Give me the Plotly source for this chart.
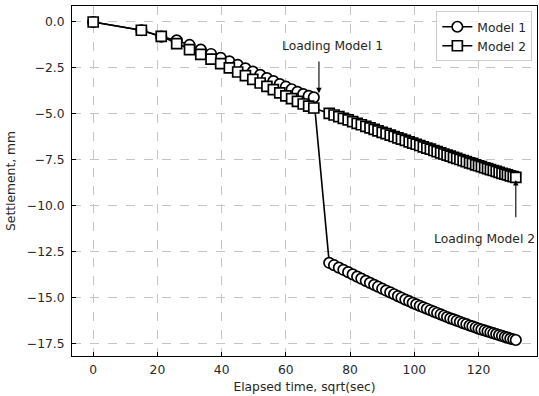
import plotly.graph_objects as go

# Elapsed time on a square-root scale, sqrt(sec)
elapsed_sqrt = [
    0.0, 15.0, 21.2, 26.0, 30.0, 33.5, 36.7, 39.7, 42.4, 45.0, 47.4,
    49.7, 52.0, 54.1, 56.1, 58.1, 60.0, 61.8, 63.6, 65.4, 67.1, 68.7,
    73.5, 75.0, 76.5, 77.9, 79.4, 80.8, 82.2, 83.5, 84.9, 86.2, 87.5,
    88.7, 90.0, 91.2, 92.5, 93.7, 94.9, 96.0, 97.2, 98.4, 99.5, 100.6,
    101.7, 102.8, 103.9, 105.0, 106.1, 107.1, 108.2, 109.2, 110.2, 111.2,
    112.2, 113.2, 114.2, 115.2, 116.2, 117.2, 118.1, 119.1, 120.0, 120.9,
    121.9, 122.8, 123.7, 124.6, 125.5, 126.4, 127.3, 128.2, 129.0, 129.9,
    130.8, 131.6,
]

# Settlement, mm
model1_settlement = [
    0.00, -0.45, -0.80, -1.00, -1.25, -1.50, -1.74, -1.95, -2.14, -2.33, -2.52,
    -2.70, -2.88, -3.05, -3.22, -3.38, -3.52, -3.66, -3.80, -3.92, -4.02, -4.10,
    -13.10, -13.23, -13.36, -13.48, -13.61, -13.73, -13.85, -13.96, -14.08, -14.19, -14.30,
    -14.40, -14.51, -14.61, -14.71, -14.81, -14.91, -15.00, -15.10, -15.19, -15.28, -15.36,
    -15.44, -15.52, -15.60, -15.68, -15.76, -15.83, -15.91, -15.98, -16.05, -16.12,
    -16.18, -16.25, -16.31, -16.38, -16.44, -16.51, -16.56, -16.62, -16.68, -16.73,
    -16.78, -16.83, -16.88, -16.93, -16.98, -17.03, -17.08, -17.13, -17.17, -17.22,
    -17.26, -17.30,
]

model2_settlement = [
    0.00, -0.45, -0.78, -1.18, -1.50, -1.76, -2.02, -2.26, -2.50, -2.72, -2.92,
    -3.12, -3.32, -3.50, -3.68, -3.86, -4.02, -4.17, -4.32, -4.46, -4.58, -4.68,
    -4.97, -5.06, -5.15, -5.24, -5.33, -5.42, -5.51, -5.59, -5.68, -5.76, -5.84,
    -5.92, -6.00, -6.07, -6.15, -6.23, -6.30, -6.37, -6.44, -6.52, -6.59, -6.65,
    -6.72, -6.79, -6.86, -6.92, -6.99, -7.05, -7.12, -7.18, -7.24, -7.30,
    -7.36, -7.42, -7.48, -7.54, -7.60, -7.66, -7.71, -7.77, -7.82, -7.87,
    -7.93, -7.98, -8.03, -8.08, -8.13, -8.18, -8.23, -8.28, -8.32, -8.37,
    -8.41, -8.45,
]

x_ticks = [0, 20, 40, 60, 80, 100, 120]
y_ticks = [0.0, -2.5, -5.0, -7.5, -10.0, -12.5, -15.0, -17.5]

FONT = "DejaVu Sans"
TXT = "#262626"
FS = 12.3

fig = go.Figure()
fig.add_trace(go.Scatter(
    x=elapsed_sqrt, y=model1_settlement, name="Model 1", mode="lines+markers",
    line=dict(color="black", width=1.6),
    marker=dict(symbol="circle", size=10.5, color="white",
                line=dict(color="black", width=1.7)),
))
fig.add_trace(go.Scatter(
    x=elapsed_sqrt, y=model2_settlement, name="Model 2", mode="lines+markers",
    line=dict(color="black", width=1.6),
    marker=dict(symbol="square", size=10, color="white",
                line=dict(color="black", width=1.7)),
))

axis_common = dict(
    showline=True, linecolor="black", linewidth=1, mirror=True,
    ticks="inside", ticklen=4, tickcolor="black", tickwidth=1,
    showgrid=True, gridcolor="#c4c4c4", griddash="dash", gridwidth=1,
    zeroline=False, tickfont=dict(family=FONT, size=FS, color=TXT),
)

fig.update_xaxes(
    range=[-6.6, 138.2], tickvals=x_ticks, ticklabelstandoff=2,
    title=dict(text="Elapsed time, sqrt(sec)", font=dict(family=FONT, size=FS, color=TXT), standoff=6),
    **axis_common,
)
fig.update_yaxes(
    range=[-18.17, 0.87], tickvals=y_ticks, tickformat=".1f", ticklabelstandoff=4,
    title=dict(text="Settlement, mm", font=dict(family=FONT, size=FS, color=TXT), standoff=8),
    **axis_common,
)

# Loading markers
fig.add_annotation(x=70.3, y=-3.87, ax=70.3, ay=-2.07, axref="x", ayref="y",
                   text="", showarrow=True, arrowhead=2, arrowsize=1, arrowwidth=1.1,
                   arrowcolor="black")
fig.add_annotation(x=74.6, y=-1.31, text="Loading Model 1", showarrow=False,
                   font=dict(family=FONT, size=FS, color=TXT))
fig.add_annotation(x=131.6, y=-8.6, ax=131.6, ay=-10.7, axref="x", ayref="y",
                   text="", showarrow=True, arrowhead=2, arrowsize=1, arrowwidth=1.1,
                   arrowcolor="black")
fig.add_annotation(x=121.9, y=-11.78, text="Loading Model 2", showarrow=False,
                   font=dict(family=FONT, size=FS, color=TXT))

fig.update_layout(
    width=539, height=396,
    margin=dict(l=72, r=2, t=6, b=40),
    paper_bgcolor="white", plot_bgcolor="white",
    showlegend=True,
    legend=dict(x=0.99, y=0.985, xanchor="right", yanchor="top",
                bgcolor="rgba(255,255,255,0.8)", bordercolor="#cccccc", borderwidth=1,
                font=dict(family=FONT, size=FS, color=TXT),
                itemwidth=30, tracegroupgap=0),
)

fig.write_html("out.html")
